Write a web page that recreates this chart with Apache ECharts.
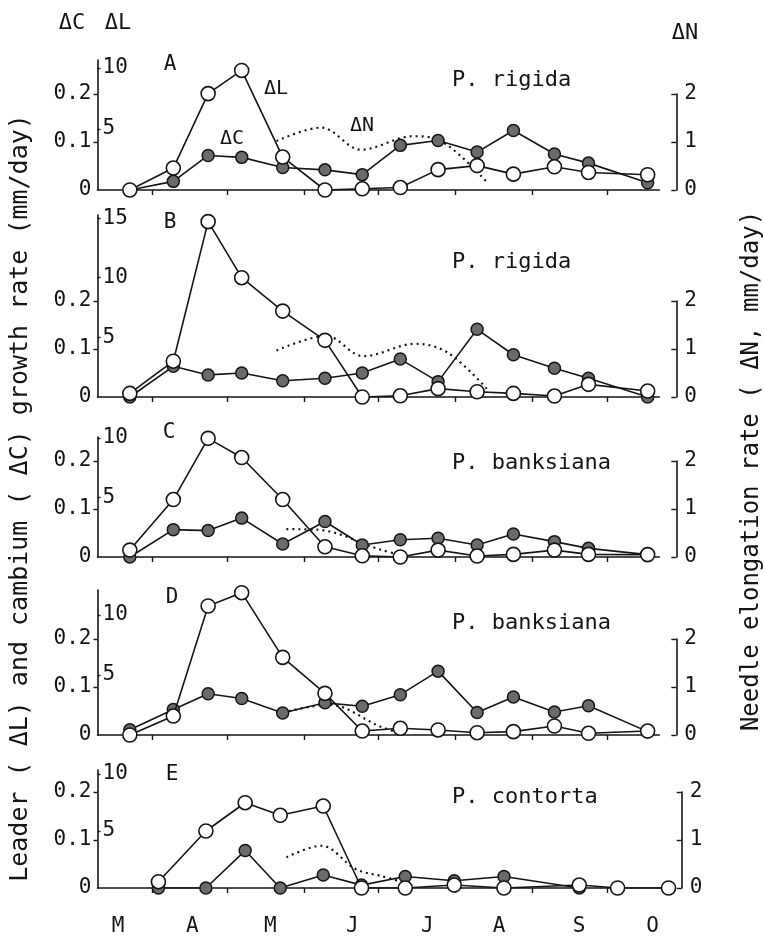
<!DOCTYPE html>
<html><head><meta charset="utf-8">
<script src="https://cdn.jsdelivr.net/npm/echarts@6/dist/echarts.min.js"></script>
<style>html,body{margin:0;padding:0;background:#fff}#c{width:764px;height:941px}</style>
</head><body><div id="c"></div>
<script>
// ---- data (x = day of year) ----
const sampleDays = [82, 99.5, 113.5, 127, 143.5, 160.5, 175.5, 190.8, 206, 221.7, 236.3, 252.8, 266.5, 290.3];
const sampleDaysE = [93.5, 112.6, 128.4, 142.5, 159.8, 175.2, 192.8, 212.5, 232.5, 262.8, 278.2, 298.7];

const leaderA = [0, 1.8, 7.9, 9.8, 2.7, 0, 0.1, 0.2, 1.67, 2.0, 1.3, 1.9, 1.44, 1.25];
const cambiumA = [0, 0.018, 0.072, 0.068, 0.047, 0.042, 0.032, 0.093, 0.103, 0.079, 0.124, 0.075, 0.056, 0.015];
const needleDaysA = [141, 159, 175, 196, 206, 226];
const needleA = [1.02, 1.3, 0.84, 1.12, 1.05, 0.14];

const leaderB = [0.3, 3.0, 14.7, 10.0, 7.2, 4.75, 0, 0.1, 0.7, 0.44, 0.3, 0.08, 1.06, 0.5];
const cambiumB = [0, 0.064, 0.046, 0.05, 0.034, 0.039, 0.05, 0.079, 0.032, 0.141, 0.088, 0.06, 0.039, 0];
const needleDaysB = [141, 161, 176, 197, 210, 226];
const needleB = [0.97, 1.27, 0.85, 1.11, 0.92, 0.15];

const leaderC = [0.58, 4.83, 9.97, 8.36, 4.83, 0.86, 0.1, 0, 0.58, 0.08, 0.22, 0.58, 0.22, 0.2];
const cambiumC = [0, 0.057, 0.055, 0.081, 0.027, 0.074, 0.025, 0.036, 0.039, 0.025, 0.048, 0.032, 0.018, 0.005];
const needleDaysC = [145, 157, 183, 188];
const needleC = [0.58, 0.57, 0.15, 0.08];

const leaderD = [0, 1.58, 10.75, 11.86, 6.47, 3.47, 0.33, 0.56, 0.42, 0.19, 0.28, 0.75, 0.14, 0.33];
const cambiumD = [0.011, 0.053, 0.086, 0.076, 0.046, 0.067, 0.06, 0.084, 0.133, 0.047, 0.079, 0.048, 0.061, 0.007];
const needleDaysD = [146, 162, 183, 190];
const needleD = [0.5, 0.63, 0.17, 0.05];

const leaderE = [0.55, 5.0, 7.48, 6.38, 7.19, 0, 0, 0.26, 0, 0.26, 0, 0];
const cambiumE = [0, 0, 0.078, 0, 0.027, 0.006, 0.024, 0.015, 0.024, 0];
const needleDaysE = [145, 159, 173, 183, 192];
const needleE = [0.64, 0.88, 0.39, 0.25, 0.12];

const monthStarts = [91, 121, 152, 182, 213, 244, 274];
const monthLabelDays = [77.3, 107.1, 138.5, 171.5, 201.7, 230.5, 262.7, 292.3];
const monthLetters = ['M', 'A', 'M', 'J', 'J', 'A', 'S', 'O'];

const cambiumTicks = [0, 0.1, 0.2];
const needleTicks = [0, 1, 2];
const leaderTicksA = [5, 10];
const leaderTicksB = [5, 10, 15];
const leaderTicksC = [5, 10];
const leaderTicksD = [5, 10];
const leaderTicksE = [5, 10];

const letters = ['A', 'B', 'C', 'D', 'E'];
const species = ['P. rigida', 'P. rigida', 'P. banksiana', 'P. banksiana', 'P. contorta'];

// ---- layout ----
const MONO = '"DejaVu Sans Mono", monospace';
const INK = '#151515';
const xMin = 69, pxPerDay = 2.486, gridLeft = 97.5;
const pxC = 480, pxN = 48;
const layout = [
  {top: 60, base: 190, xMax: 295, nOff: 17, sL: 12.2, letter: [170, 65], sp: 80},
  {top: 215, base: 397, xMax: 295, nOff: 17, sL: 11.93, letter: [170, 223], sp: 262},
  {top: 437, base: 557, xMax: 295, nOff: 17, sL: 11.9, letter: [169, 433], sp: 463},
  {top: 590, base: 735, xMax: 295, nOff: 17, sL: 12.0, letter: [172, 598], sp: 623},
  {top: 770, base: 888, xMax: 300, nOff: 10, sL: 11.4, letter: [172, 775], sp: 797}
];
const panelData = [
  {days: sampleDays, L: leaderA, C: cambiumA, nd: needleDaysA, N: needleA, lt: leaderTicksA},
  {days: sampleDays, L: leaderB, C: cambiumB, nd: needleDaysB, N: needleB, lt: leaderTicksB},
  {days: sampleDays, L: leaderC, C: cambiumC, nd: needleDaysC, N: needleC, lt: leaderTicksC},
  {days: sampleDays, L: leaderD, C: cambiumD, nd: needleDaysD, N: needleD, lt: leaderTicksD},
  {days: sampleDaysE, L: leaderE, C: cambiumE, nd: needleDaysE, N: needleE, lt: leaderTicksE}
];

const grid = [], xAxis = [], yAxis = [], series = [], graphic = [];
layout.forEach((p, i) => {
  const d = panelData[i];
  const w = (p.xMax - xMin) * pxPerDay;
  const h = p.base - p.top;
  grid.push({left: gridLeft, top: p.top, width: w, height: h, outerBoundsMode: 'none'});
  grid.push({left: gridLeft, top: p.base - 2 * pxN, width: w, height: 2 * pxN, outerBoundsMode: 'none'});
  const last = i === layout.length - 1;
  xAxis.push({
    type: 'value', gridIndex: 2 * i, min: xMin, max: p.xMax,
    axisLine: {show: true, onZero: false, lineStyle: {color: INK, width: 1.6}},
    axisTick: {show: true, customValues: monthStarts, length: 5, lineStyle: {color: INK, width: 1.4}},
    axisLabel: last ? {
      show: true, customValues: monthLabelDays, margin: 28,
      formatter: v => monthLetters[monthLabelDays.indexOf(v)],
      fontFamily: MONO, fontSize: 21, color: INK
    } : {show: false},
    splitLine: {show: false}
  });
  xAxis.push({type: 'value', gridIndex: 2 * i + 1, min: xMin, max: p.xMax, show: false});
  // cambium axis (outer left)
  yAxis.push({
    type: 'value', gridIndex: 2 * i, position: 'left', min: 0, max: h / pxC,
    axisLine: {show: true, onZero: false, lineStyle: {color: INK, width: 1.6}},
    axisTick: {show: true, customValues: [0.1, 0.2], length: 4, lineStyle: {color: INK, width: 1.4}},
    axisLabel: {customValues: cambiumTicks, margin: 6, fontFamily: MONO, fontSize: 21, color: INK,
      formatter: v => v === 0 ? '0' : v.toFixed(1)},
    splitLine: {show: false}
  });
  // leader axis (inside labels)
  yAxis.push({
    type: 'value', gridIndex: 2 * i, position: 'left', min: 0, max: h / p.sL,
    axisLine: {show: false},
    axisTick: {show: true, inside: true, customValues: d.lt, length: 3, lineStyle: {color: INK, width: 1.4}},
    axisLabel: {inside: true, customValues: d.lt, margin: 5, fontFamily: MONO, fontSize: 21, color: INK},
    splitLine: {show: false}
  });
  // needle axis (right bracket)
  yAxis.push({
    type: 'value', gridIndex: 2 * i + 1, position: 'right', offset: p.nOff, min: 0, max: 2,
    axisLine: {show: true, onZero: false, lineStyle: {color: INK, width: 1.6}},
    axisTick: {show: true, inside: true, customValues: needleTicks, length: 5, lineStyle: {color: INK, width: 1.4}},
    axisLabel: {customValues: needleTicks, margin: 8, fontFamily: MONO, fontSize: 21, color: INK},
    splitLine: {show: false}
  });
  series.push({
    type: 'line', xAxisIndex: 2 * i + 1, yAxisIndex: 3 * i + 2,
    data: d.N.map((v, k) => [d.nd[k], v]), symbol: 'none', smooth: 0.35,
    lineStyle: {color: INK, width: 2.2, type: [2, 4]}, z: 2
  });
  series.push({
    type: 'line', xAxisIndex: 2 * i, yAxisIndex: 3 * i,
    data: d.C.map((v, k) => [d.days[k], v]), symbol: 'circle', symbolSize: 12,
    itemStyle: {color: '#6b6b6b', borderColor: INK, borderWidth: 1.5},
    lineStyle: {color: INK, width: 1.6}, z: 3
  });
  series.push({
    type: 'line', xAxisIndex: 2 * i, yAxisIndex: 3 * i + 1,
    data: d.L.map((v, k) => [d.days[k], v]), symbol: 'circle', symbolSize: 14,
    itemStyle: {color: '#ffffff', borderColor: INK, borderWidth: 1.6},
    lineStyle: {color: INK, width: 1.6}, z: 4
  });
  graphic.push({type: 'text', x: p.letter[0], y: p.letter[1],
    style: {text: letters[i], font: '21px ' + MONO, fill: INK, textAlign: 'center', textVerticalAlign: 'middle'}});
  graphic.push({type: 'text', x: 452, y: p.sp,
    style: {text: species[i], font: '22px ' + MONO, fill: INK, textAlign: 'left', textVerticalAlign: 'middle'}});
});

const txt = (s, x, y, size, rot) => ({type: 'text', x: x, y: y, rotation: rot || 0,
  style: {text: s, font: size + 'px ' + MONO, fill: INK, textAlign: 'center', textVerticalAlign: 'middle'}});
graphic.push(txt('ΔC', 72, 23, 22));
graphic.push(txt('ΔL', 118, 23, 22));
graphic.push(txt('ΔN', 685, 33, 22));
graphic.push(txt('ΔL', 276, 89, 20));
graphic.push(txt('ΔC', 232, 139, 20));
graphic.push(txt('ΔN', 362, 126, 20));
graphic.push(txt('Leader ( ΔL) and cambium ( ΔC) growth rate (mm/day)', 20, 498, 25, Math.PI / 2));
graphic.push(txt('Needle elongation rate ( ΔN, mm/day)', 752, 471, 24, Math.PI / 2));

const chart = echarts.init(document.getElementById('c'), null, {renderer: 'canvas'});
chart.setOption({
  animation: false, backgroundColor: '#ffffff',
  grid, xAxis, yAxis, series, graphic
});
</script></body></html>
